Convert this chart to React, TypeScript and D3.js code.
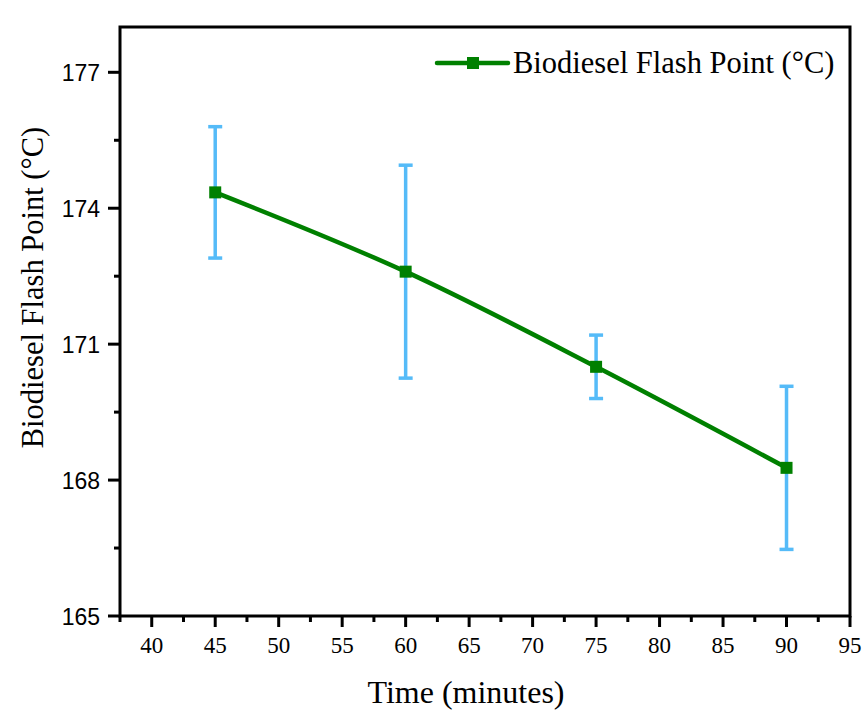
import React, { useEffect, useRef } from 'react';
import * as d3 from 'd3';

const times = [45, 60, 75, 90];
const flashPoint = [174.35, 172.6, 170.5, 168.27];
const flashErr = [1.45, 2.35, 0.7, 1.8];
const xTicks = [40, 45, 50, 55, 60, 65, 70, 75, 80, 85, 90, 95];
const yTicks = [165, 168, 171, 174, 177];

const WIDTH = 867;
const HEIGHT = 718;

const GREEN = '#008000';
const BLUE = '#55BBF8';
const SERIF = '"Liberation Serif", "Times New Roman", serif';
const SANS = '"Liberation Sans", Arial, sans-serif';

const FlashPointChart: React.FC = () => {
  const svgRef = useRef<SVGSVGElement>(null);

  useEffect(() => {
    if (!svgRef.current) return;
    const svg = d3.select(svgRef.current);
    svg.selectAll('*').remove();

    const left = 120, right = 850, top = 27, bottom = 616;

    const x = d3.scaleLinear().domain([37.5, 95]).range([left, right]);
    const y = d3.scaleLinear().domain([165, 178]).range([bottom, top]);

    // frame
    svg.append('rect')
      .attr('x', left).attr('y', top)
      .attr('width', right - left).attr('height', bottom - top)
      .attr('fill', 'none').attr('stroke', '#000').attr('stroke-width', 3);

    // x ticks
    const xMinor = d3.range(37.5, 95, 5);
    svg.append('g').selectAll('line.xmaj').data(xTicks).enter().append('line')
      .attr('x1', d => x(d)).attr('x2', d => x(d))
      .attr('y1', bottom).attr('y2', bottom + 11)
      .attr('stroke', '#000').attr('stroke-width', 3);
    svg.append('g').selectAll('line.xmin').data(xMinor).enter().append('line')
      .attr('x1', d => x(d)).attr('x2', d => x(d))
      .attr('y1', bottom).attr('y2', bottom + 6)
      .attr('stroke', '#000').attr('stroke-width', 3);
    svg.append('g').selectAll('text').data(xTicks).enter().append('text')
      .attr('x', d => x(d)).attr('y', 653)
      .attr('text-anchor', 'middle')
      .attr('font-family', SERIF).attr('font-size', 23)
      .text(d => d);

    // y ticks
    const yMinor = d3.range(166.5, 178, 3);
    svg.append('g').selectAll('line.ymaj').data(yTicks).enter().append('line')
      .attr('x1', left - 12).attr('x2', left)
      .attr('y1', d => y(d)).attr('y2', d => y(d))
      .attr('stroke', '#000').attr('stroke-width', 3);
    svg.append('g').selectAll('line.ymin').data(yMinor).enter().append('line')
      .attr('x1', left - 6).attr('x2', left)
      .attr('y1', d => y(d)).attr('y2', d => y(d))
      .attr('stroke', '#000').attr('stroke-width', 3);
    svg.append('g').selectAll('text').data(yTicks).enter().append('text')
      .attr('x', 100).attr('y', d => y(d) + 8.5)
      .attr('text-anchor', 'end')
      .attr('font-family', SANS).attr('font-size', 23)
      .text(d => d);

    // axis titles
    svg.append('text')
      .attr('x', (left + right) / 2 - 19).attr('y', 703)
      .attr('text-anchor', 'middle')
      .attr('font-family', SERIF).attr('font-size', 32)
      .text('Time (minutes)');
    svg.append('text')
      .attr('transform', `translate(43, ${(top + bottom) / 2 - 34}) rotate(-90)`)
      .attr('text-anchor', 'middle')
      .attr('font-family', SERIF).attr('font-size', 30.5)
      .text('Biodiesel Flash Point (°C)');

    const pts = times.map((t, i) => ({ t, v: flashPoint[i], e: flashErr[i] }));

    // line
    const line = d3.line<{ t: number; v: number }>()
      .x(d => x(d.t)).y(d => y(d.v))
      .curve(d3.curveMonotoneX);
    svg.append('path')
      .attr('d', line(pts))
      .attr('fill', 'none').attr('stroke', GREEN).attr('stroke-width', 4.5);

    // error bars
    const eb = svg.append('g').attr('stroke', BLUE).attr('stroke-width', 3.5);
    pts.forEach(p => {
      const cx = x(p.t);
      eb.append('line')
        .attr('x1', cx).attr('x2', cx)
        .attr('y1', y(p.v + p.e)).attr('y2', y(p.v - p.e));
      [p.v + p.e, p.v - p.e].forEach(v => {
        eb.append('line')
          .attr('x1', cx - 7).attr('x2', cx + 7)
          .attr('y1', y(v)).attr('y2', y(v));
      });
    });

    // markers
    svg.append('g').selectAll('rect').data(pts).enter().append('rect')
      .attr('x', d => x(d.t) - 6).attr('y', d => y(d.v) - 6)
      .attr('width', 12).attr('height', 12)
      .attr('fill', GREEN);

    // Legend
    const legend = svg.append('g').attr('transform', 'translate(437, 63)');
    legend.append('line')
      .attr('x1', 0).attr('x2', 71).attr('y1', 0).attr('y2', 0)
      .attr('stroke', GREEN).attr('stroke-width', 4.5).attr('stroke-linecap', 'round');
    legend.append('rect')
      .attr('x', 30).attr('y', -6).attr('width', 12).attr('height', 12)
      .attr('fill', GREEN);
    legend.append('text')
      .attr('x', 76).attr('y', 10)
      .attr('font-family', SERIF).attr('font-size', 30.5)
      .text('Biodiesel Flash Point (°C)');
  }, []);

  return <svg ref={svgRef} width={WIDTH} height={HEIGHT} style={{ display: 'block', background: '#fff' }} />;
};

export default function App() {
  useEffect(() => {
    document.body.style.margin = '0';
  }, []);
  return <FlashPointChart />;
}
